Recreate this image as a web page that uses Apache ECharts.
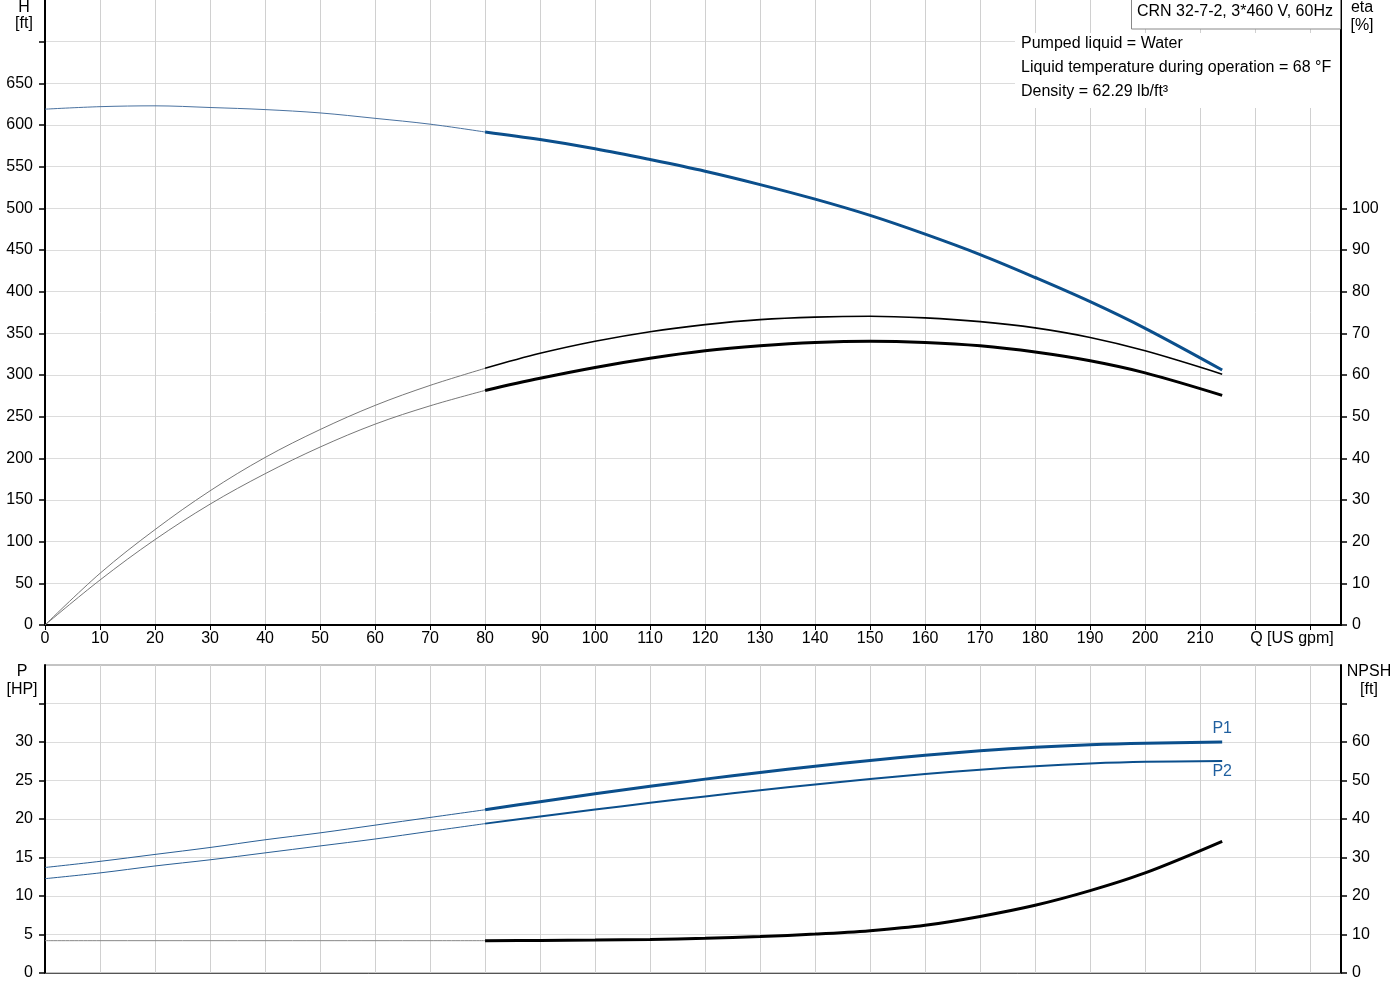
<!DOCTYPE html>
<html>
  <head>
    <meta charset="UTF-8" />
    <title>CRN 32-7-2 pump curves</title>
    <script src="https://cdn.jsdelivr.net/npm/echarts@6/dist/echarts.min.js"></script>
    <style>
      body {
        padding: 0;
        margin: 0;
        background: #fff;
      }
      #main {
        width: 1400px;
        height: 1000px;
      }
    </style>
  </head>

  <body>
    <div id="main"></div>
    <script type="text/javascript">
      // flow points, thin part (outside the recommended range) and thick part
      var qLow = [0, 10, 20, 30, 40, 50, 60, 70, 80];
      var qHigh = [80, 90, 100, 110, 120, 130, 140, 150, 160, 170, 180, 190, 200, 214];

      // head [ft]
      var headLow = [619, 622, 623, 621, 618.5, 614.5, 608, 601, 591.6];
      var headHigh = [591.6, 582.5, 571.5, 558.5, 544.5, 528.5, 511, 491.5, 469, 444.5, 417, 388, 356, 306];

      // efficiency [%]
      var etaPumpLow = [0, 12.4, 22.9, 32.2, 40.2, 46.9, 52.7, 57.5, 61.6];
      var etaPumpHigh = [61.6, 65.2, 68.1, 70.4, 72.1, 73.3, 73.9, 74.1, 73.7, 72.8, 71.3, 69.0, 65.8, 60.2];
      var etaTotalLow = [0, 10.8, 20.5, 29.0, 36.3, 42.7, 48.2, 52.6, 56.3];
      var etaTotalHigh = [56.3, 59.2, 61.8, 64.0, 65.8, 67.0, 67.8, 68.1, 67.8, 67.0, 65.5, 63.4, 60.5, 55.1];

      // power [HP]
      var p1Low = [13.7, 14.5, 15.4, 16.3, 17.3, 18.2, 19.2, 20.2, 21.2];
      var p1High = [21.2, 22.25, 23.27, 24.25, 25.18, 26.05, 26.86, 27.6, 28.27, 28.85, 29.32, 29.65, 29.85, 30.0];
      var p2Low = [12.25, 13.0, 13.9, 14.7, 15.6, 16.5, 17.4, 18.4, 19.4];
      var p2High = [19.4, 20.33, 21.23, 22.1, 22.93, 23.73, 24.49, 25.2, 25.84, 26.4, 26.86, 27.2, 27.42, 27.53];

      // NPSH [ft]
      var npshLow = [8.4, 8.4, 8.4, 8.4, 8.4, 8.4, 8.4, 8.4, 8.4];
      var npshHigh = [8.4, 8.45, 8.55, 8.72, 9.0, 9.45, 10.1, 11.0, 12.4, 14.7, 17.6, 21.4, 26.0, 34.2];

      // axis ticks / labels
      var qTicks = [0, 10, 20, 30, 40, 50, 60, 70, 80, 90, 100, 110, 120, 130, 140, 150, 160, 170, 180, 190, 200, 210, 220, 230];
      var hTicks = [0, 50, 100, 150, 200, 250, 300, 350, 400, 450, 500, 550, 600, 650, 700];
      var hLabels = [0, 50, 100, 150, 200, 250, 300, 350, 400, 450, 500, 550, 600, 650];
      var etaTicks = [0, 10, 20, 30, 40, 50, 60, 70, 80, 90, 100];
      var pTicks = [0, 5, 10, 15, 20, 25, 30, 35];
      var pLabels = [0, 5, 10, 15, 20, 25, 30];
      var npshTicks = [0, 10, 20, 30, 40, 50, 60, 70];
      var npshLabels = [0, 10, 20, 30, 40, 50, 60];

      var infoTitle = "CRN 32-7-2, 3*460 V, 60Hz";
      var infoLines = [
        "Pumped liquid = Water",
        "Liquid temperature during operation = 68 °F",
        "Density = 62.29 lb/ft³"
      ];

      var FONT = "Liberation Sans, Arial, sans-serif";
      var BLUE = "#0b4f8c";

      function zip(xs, ys) {
        return xs.map(function(x, i) {
          return [x, ys[i]];
        });
      }

      function withEndLabel(points, text, pos, dist) {
        var pts = points.slice();
        var last = pts.pop();
        pts.push({
          value: last,
          label: {
            show: true,
            formatter: text,
            position: pos,
            distance: dist,
            color: "#1f5f9f",
            fontSize: 16,
            fontFamily: FONT
          }
        });
        return pts;
      }

      function line(name, data, xi, yi, color, width) {
        return {
          name: name,
          type: "line",
          xAxisIndex: xi,
          yAxisIndex: yi,
          data: data,
          smooth: 0.35,
          showSymbol: true,
          symbol: "circle",
          symbolSize: 0,
          lineStyle: { color: color, width: width },
          itemStyle: { color: color },
          z: 3
        };
      }

      function qAxis(gridIndex, showLabels) {
        return {
          type: "value",
          gridIndex: gridIndex,
          min: 0,
          max: 235.6,
          interval: 10,
          axisLine: {
            show: true,
            onZero: false,
            lineStyle: { color: showLabels ? "#000" : "#555", width: showLabels ? 2 : 1 }
          },
          axisTick: {
            show: showLabels,
            length: 5,
            customValues: qTicks,
            lineStyle: { color: "#000" }
          },
          axisLabel: {
            show: showLabels,
            margin: 6,
            color: "#000",
            fontSize: 16,
            fontFamily: FONT,
            customValues: qTicks.filter(function(v) { return v <= 210; }),
            formatter: function(v) {
              return v <= 210 ? v : "";
            }
          },
          splitLine: { show: true, lineStyle: { color: "#d0d0d0", width: 1 } }
        };
      }

      function valAxis(gridIndex, pos, max, interval, ticks, labels, split) {
        var lastLabel = labels[labels.length - 1];
        return {
          type: "value",
          gridIndex: gridIndex,
          position: pos,
          min: 0,
          max: max,
          interval: interval,
          axisLine: { show: true, onZero: false, lineStyle: { color: "#000", width: 2 } },
          axisTick: {
            show: true,
            length: 6,
            customValues: ticks,
            lineStyle: { color: "#000", width: 1.5 }
          },
          axisLabel: {
            margin: pos === "left" ? 12 : 11,
            color: "#000",
            fontSize: 16,
            fontFamily: FONT,
            customValues: labels,
            formatter: function(v) {
              return v <= lastLabel ? v : "";
            }
          },
          splitLine: { show: split, lineStyle: { color: "#dcdcdc", width: 1 } }
        };
      }

      function txt(text, x, y, align) {
        return {
          type: "text",
          z: 20,
          style: {
            text: text,
            x: x,
            y: y,
            fill: "#000",
            font: "16px " + FONT,
            textAlign: align || "center",
            textVerticalAlign: "middle"
          }
        };
      }

      var chart = echarts.init(document.getElementById("main"));

      var option = {
        animation: false,
        backgroundColor: "#fff",
        grid: [
          { left: 45, right: 59, top: 0, height: 625 },
          { left: 45, right: 59, top: 665, height: 308, show: true, borderColor: "#888", borderWidth: 1 }
        ],
        xAxis: [qAxis(0, true), qAxis(1, false)],
        yAxis: [
          valAxis(0, "left", 750, 50, hTicks, hLabels, true),
          valAxis(0, "right", 150, 10, etaTicks, etaTicks, false),
          valAxis(1, "left", 40, 5, pTicks, pLabels, true),
          valAxis(1, "right", 80, 10, npshTicks, npshLabels, false)
        ],
        graphic: [
          {
            type: "rect",
            z: 15,
            shape: { x: 1015, y: 33, width: 325, height: 75 },
            style: { fill: "#fff" }
          },
          {
            type: "rect",
            z: 16,
            shape: { x: 1131.5, y: -1, width: 209, height: 30 },
            style: { fill: "#fff", stroke: "#888", lineWidth: 1 }
          },
          txt(infoTitle, 1137, 12, "left"),
          txt(infoLines[0], 1021, 44, "left"),
          txt(infoLines[1], 1021, 68, "left"),
          txt(infoLines[2], 1021, 92, "left"),
          txt("H", 24, 8),
          txt("[ft]", 24, 24),
          txt("eta", 1362, 8),
          txt("[%]", 1362, 26),
          txt("Q [US gpm]", 1292, 639),
          txt("P", 22, 672),
          txt("[HP]", 22, 690),
          txt("NPSH", 1369, 672),
          txt("[ft]", 1369, 690)
        ],
        series: [
          line("H", zip(qLow, headLow), 0, 0, "#4a72a0", 1),
          line("H", zip(qHigh, headHigh), 0, 0, BLUE, 3),
          line("eta pump", zip(qLow, etaPumpLow), 0, 1, "#777", 1),
          line("eta pump", zip(qHigh, etaPumpHigh), 0, 1, "#000", 1.6),
          line("eta total", zip(qLow, etaTotalLow), 0, 1, "#777", 1),
          line("eta total", zip(qHigh, etaTotalHigh), 0, 1, "#000", 3),
          line("P1", zip(qLow, p1Low), 1, 2, "#2a5f95", 1),
          line("P1", withEndLabel(zip(qHigh, p1High), "P1", "top", 5), 1, 2, BLUE, 3),
          line("P2", zip(qLow, p2Low), 1, 2, "#2a5f95", 1),
          line("P2", withEndLabel(zip(qHigh, p2High), "P2", "bottom", 3), 1, 2, BLUE, 2),
          line("NPSH", zip(qLow, npshLow), 1, 3, "#888", 1),
          line("NPSH", zip(qHigh, npshHigh), 1, 3, "#000", 3)
        ]
      };

      chart.setOption(option);
    </script>
  </body>
</html>
